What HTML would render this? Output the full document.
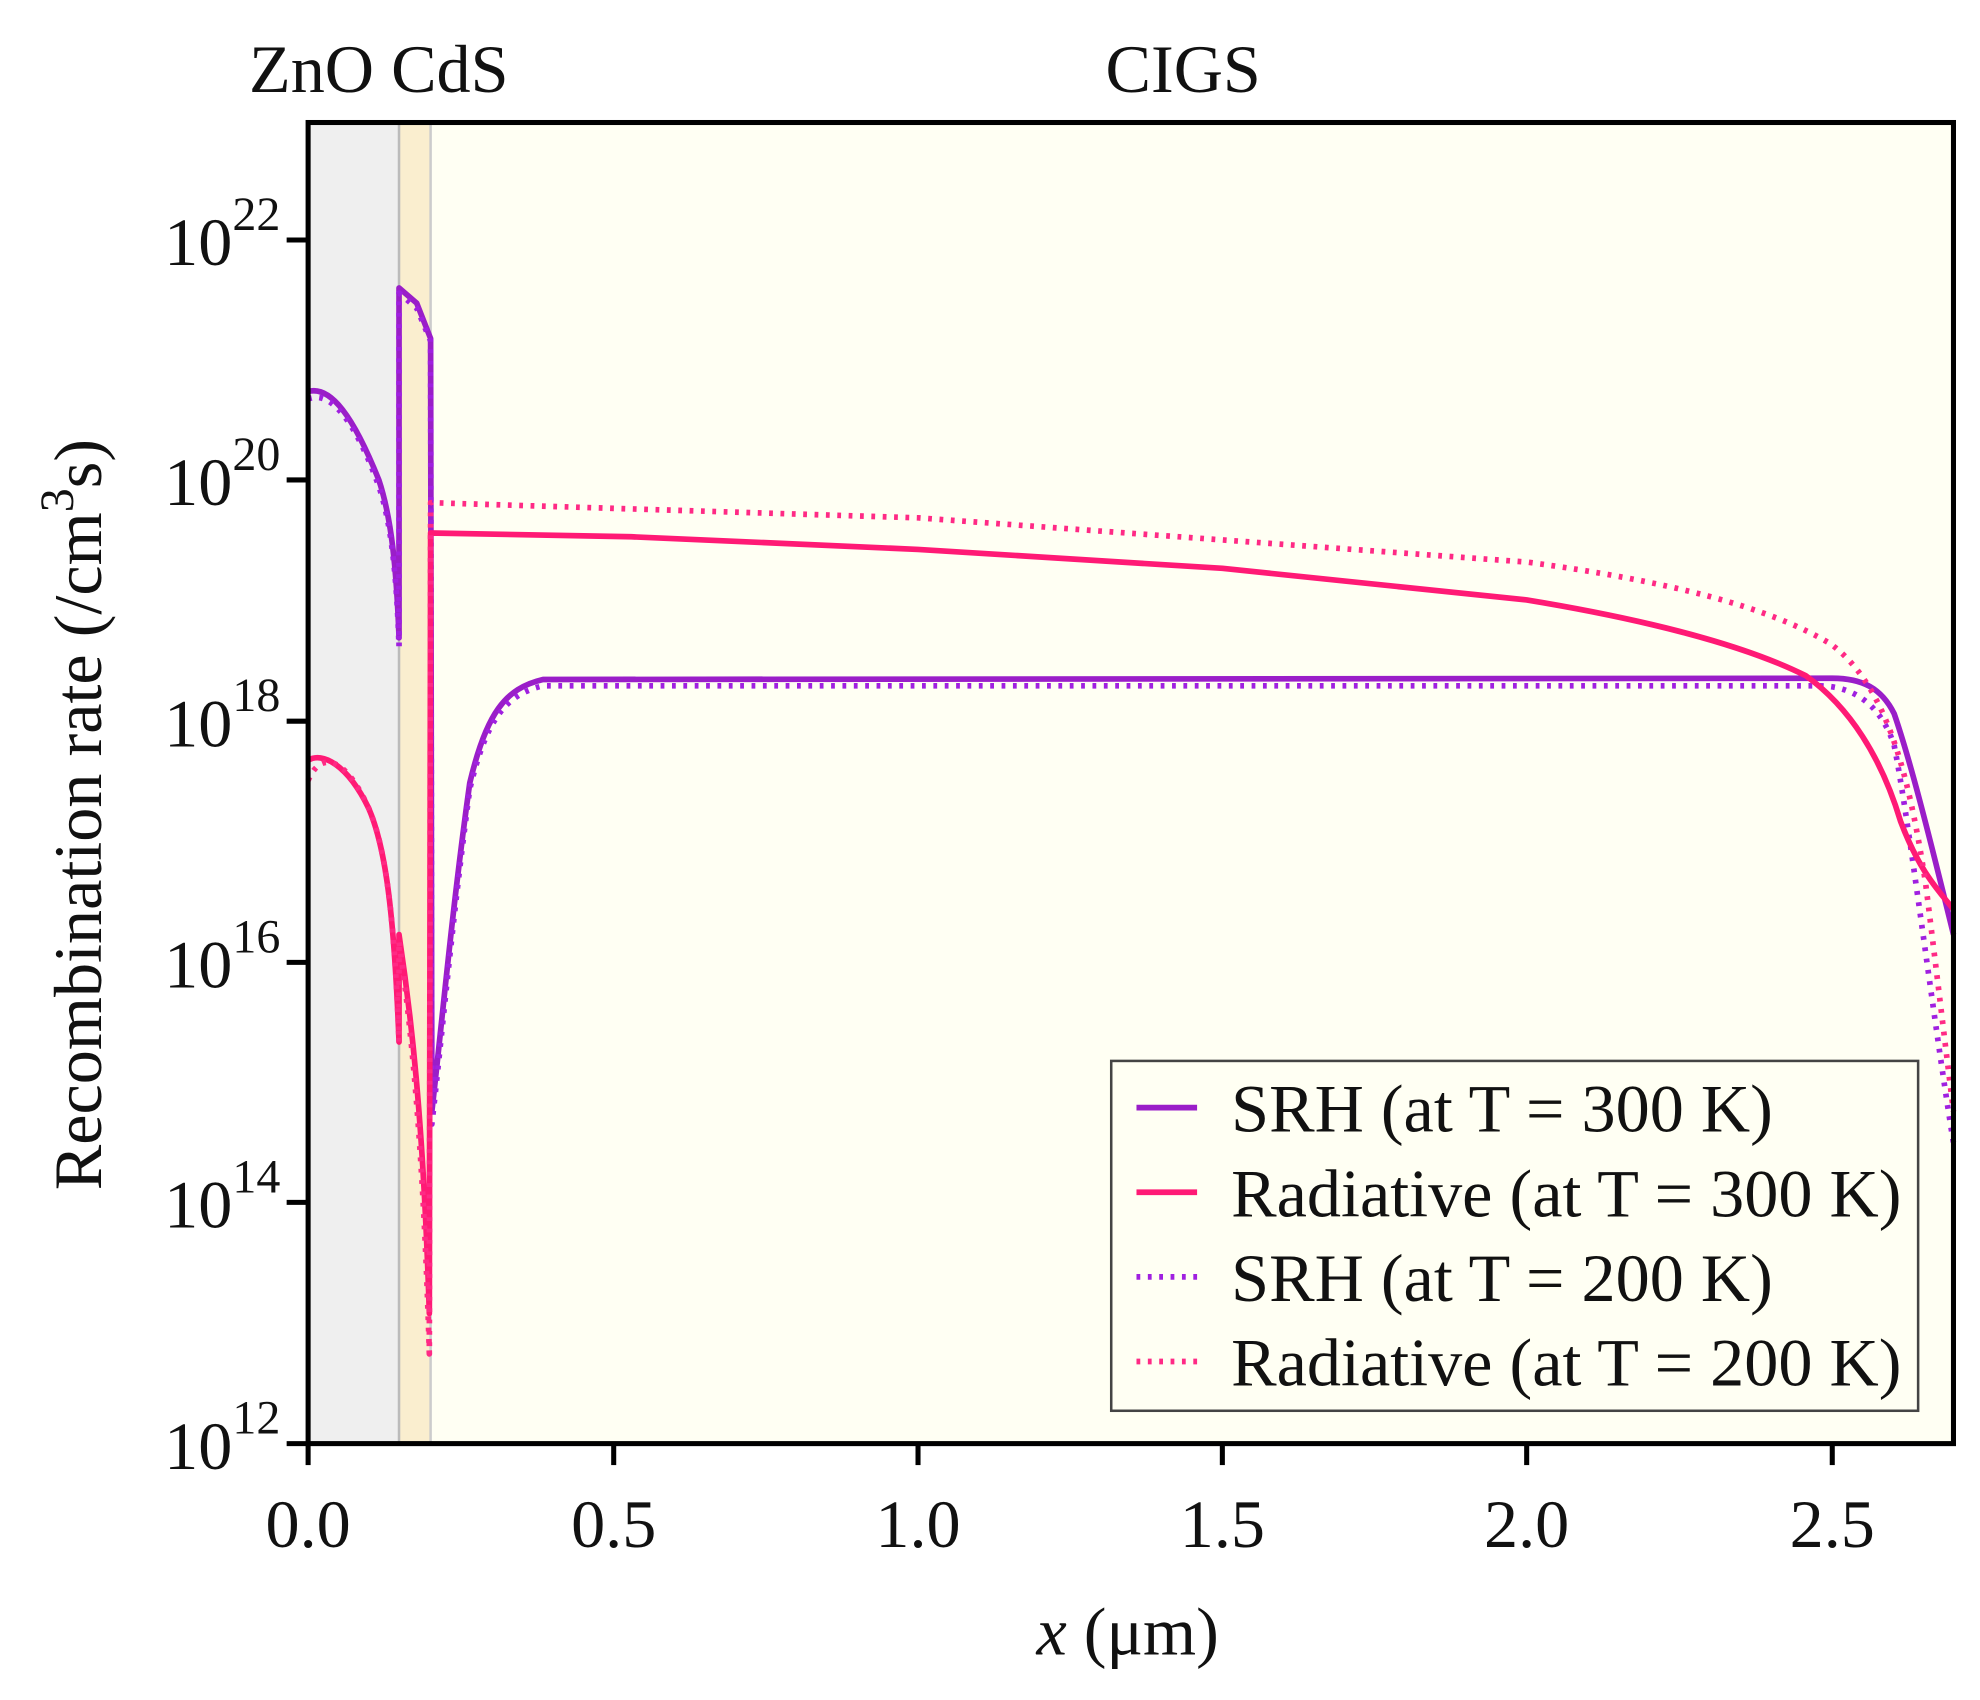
<!DOCTYPE html>
<html><head><meta charset="utf-8"><style>
html,body{margin:0;padding:0;background:#fff;}
svg{display:block;font-family:"Liberation Serif",serif;}
</style></head><body>
<svg width="1980" height="1700" viewBox="0 0 1568 1346" preserveAspectRatio="none" xmlns="http://www.w3.org/2000/svg">
<rect x="0" y="0" width="1568" height="1346" fill="#fff"/>
<rect x="244" y="97" width="1303" height="1046" fill="#fffff3"/>
<rect x="244" y="97" width="72" height="1046" fill="#efefef"/>
<rect x="316" y="97" width="25" height="1046" fill="#faeecf"/>
<line x1="316" y1="97" x2="316" y2="1143" stroke="#bbb" stroke-width="2"/>
<line x1="341" y1="97" x2="341" y2="1143" stroke="#ccc" stroke-width="2"/>

<g fill="none" stroke-width="4.5" stroke-linejoin="round">
<path stroke="#9a1ec8" d="M244,310 C262,305 280,330 300,380 C310,410 314,450 316,505 L316,228 L330,240 L341,268 L342,880 C350,810 358,720 372,620 C385,565 400,545 430,538 L1451,537 C1475,537 1490,545 1500,565 C1512,600 1525,650 1547,740"/>
<path stroke="#a020e0" stroke-dasharray="3,6" d="M244,316 C262,308 282,335 300,385 C310,415 314,455 316,512 L316,232 L330,244 L341,270 L342,890 C350,820 358,730 372,625 C385,570 400,550 430,543 L1440,543 C1470,543 1490,560 1500,590 C1512,650 1530,800 1547,905"/>
<path stroke="#ff1a75" d="M244,602 C255,595 275,605 292,640 C305,670 312,720 316,825 L316,740 C325,800 335,880 340,1040 L341,422 L500,425 L727,435 L968,450 L1209,475 C1300,490 1380,510 1430,535 C1465,560 1490,600 1505,650 C1520,690 1535,705 1547,720"/>
<path stroke="#ff2a85" stroke-dasharray="3,6" d="M244,618 C255,592 275,602 292,640 C305,670 312,720 316,825 L316,745 C325,810 335,900 340,1072 L341,398 L727,410 L1209,445 C1320,460 1400,480 1450,510 C1490,540 1510,600 1525,700 C1535,780 1542,840 1547,880"/>
</g>

<rect x="244" y="97" width="1303" height="1046" fill="none" stroke="#000" stroke-width="4"/>

<g stroke="#000" stroke-width="4">
<line x1="244" y1="1143" x2="244" y2="1160"/><line x1="486" y1="1143" x2="486" y2="1160"/>
<line x1="727" y1="1143" x2="727" y2="1160"/><line x1="968" y1="1143" x2="968" y2="1160"/>
<line x1="1209" y1="1143" x2="1209" y2="1160"/><line x1="1451" y1="1143" x2="1451" y2="1160"/>
<line x1="227" y1="190" x2="244" y2="190"/><line x1="227" y1="380" x2="244" y2="380"/>
<line x1="227" y1="571" x2="244" y2="571"/><line x1="227" y1="762" x2="244" y2="762"/>
<line x1="227" y1="952" x2="244" y2="952"/><line x1="227" y1="1143" x2="244" y2="1143"/>
</g>

<g font-size="54" fill="#111" text-anchor="middle">
<text x="244" y="1225">0.0</text><text x="486" y="1225">0.5</text><text x="727" y="1225">1.0</text>
<text x="968" y="1225">1.5</text><text x="1209" y="1225">2.0</text><text x="1451" y="1225">2.5</text>
</g>
<g font-size="54" fill="#111" text-anchor="end">
<text x="222" y="210">10<tspan font-size="38" dy="-28">22</tspan></text>
<text x="222" y="400">10<tspan font-size="38" dy="-28">20</tspan></text>
<text x="222" y="591">10<tspan font-size="38" dy="-28">18</tspan></text>
<text x="222" y="782">10<tspan font-size="38" dy="-28">16</tspan></text>
<text x="222" y="972">10<tspan font-size="38" dy="-28">14</tspan></text>
<text x="222" y="1163">10<tspan font-size="38" dy="-28">12</tspan></text>
</g>

<text x="893" y="1310" font-size="54" text-anchor="middle" fill="#111"><tspan font-style="italic">x</tspan> (μm)</text>
<text transform="translate(80,645) rotate(-90)" font-size="54" text-anchor="middle" fill="#111">Recombination rate (/cm<tspan font-size="38" dy="-22">3</tspan><tspan dy="22">s)</tspan></text>
<text x="300" y="73" font-size="54" text-anchor="middle" fill="#111">ZnO CdS</text>
<text x="937" y="73" font-size="54" text-anchor="middle" fill="#111">CIGS</text>

<rect x="880" y="840" width="639" height="277" fill="#fffff3" stroke="#444" stroke-width="2"/>
<g stroke-width="4.5">
<line x1="900" y1="877" x2="948" y2="877" stroke="#9a1ec8"/>
<line x1="900" y1="944" x2="948" y2="944" stroke="#ff1a75"/>
<line x1="900" y1="1011" x2="948" y2="1011" stroke="#a020e0" stroke-dasharray="3,6"/>
<line x1="900" y1="1078" x2="948" y2="1078" stroke="#ff2a85" stroke-dasharray="3,6"/>
</g>
<g font-size="54" fill="#111">
<text x="975" y="896">SRH (at T = 300 K)</text>
<text x="975" y="963">Radiative (at T = 300 K)</text>
<text x="975" y="1030">SRH (at T = 200 K)</text>
<text x="975" y="1097">Radiative (at T = 200 K)</text>
</g>
</svg>
</body></html>
